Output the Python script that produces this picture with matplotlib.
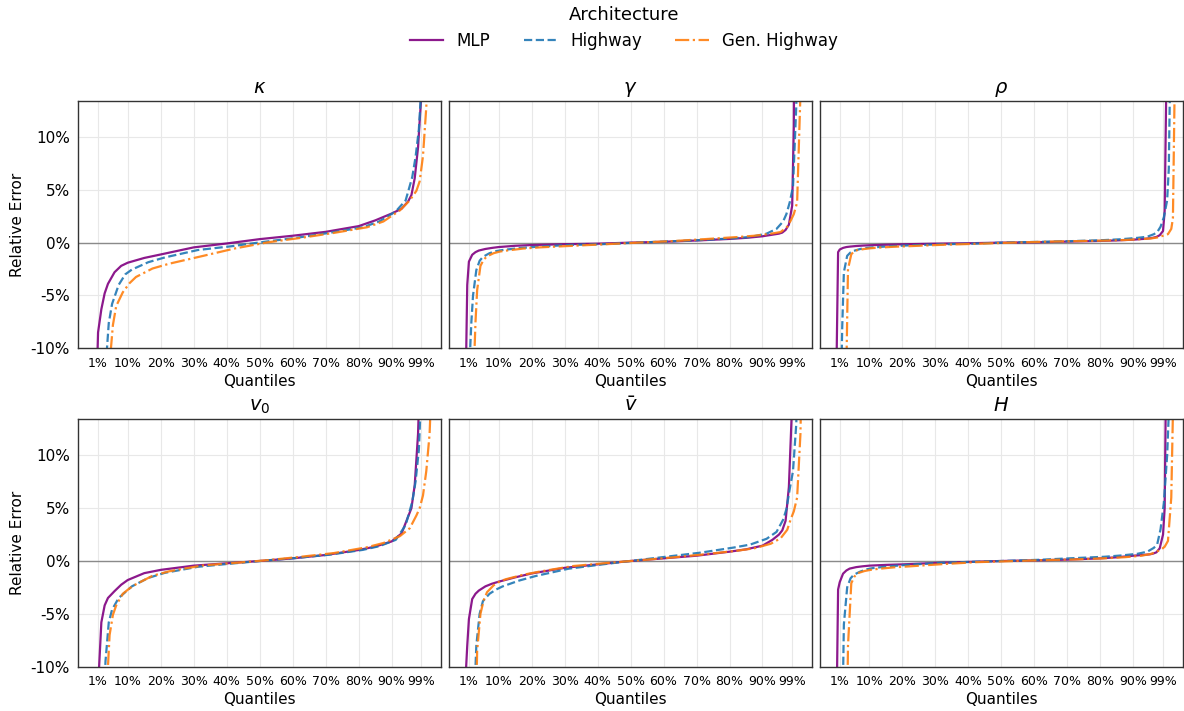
import numpy as np
import matplotlib
matplotlib.use("Agg")
import matplotlib.pyplot as plt
from matplotlib.ticker import FuncFormatter

# quantile grid (in %) shared by every curve
quantiles = [0, 0.5, 1, 2, 3, 4, 6, 8, 10, 15, 20, 30, 40, 50, 60, 70, 80,
             85, 90, 93, 95, 96, 97, 98, 99, 99.5, 100]

# relative error (in %) at each quantile
kappa_mlp = [-30, -14, -8.5, -6.3, -4.8, -3.9, -2.8, -2.2, -1.9, -1.45, -1.12, -0.45, -0.08, 0.33,
             0.65, 1.02, 1.56, 2.1, 2.75, 3.2, 3.9, 4.5, 6.1, 9.0, 14, 25, 50]
kappa_highway = [-35, -25, -19, -12, -7.6, -5.8, -4.0, -3.0, -2.55, -1.85, -1.4, -0.7, -0.35, 0.07,
                 0.46, 0.93, 1.45, 2.0, 2.95, 4.0, 6.2, 8.1, 10.7, 16, 25, 35, 50]
kappa_gen_highway = [-28, -22, -18, -11.5, -7.8, -6.0, -4.7, -3.85, -3.25, -2.45, -2.0, -1.28, -0.55, 0.03,
                     0.45, 0.92, 1.45, 2.0, 3.05, 4.0, 4.9, 5.8, 8.2, 12.8, 20, 30, 50]

gamma_mlp = [-14, -4, -1.8, -1.15, -0.9, -0.75, -0.6, -0.5, -0.42, -0.3, -0.23, -0.15, -0.1, 0,
             0.08, 0.2, 0.35, 0.45, 0.6, 0.75, 0.85, 0.95, 1.2, 1.7, 3.5, 11, 40]
gamma_highway = [-11, -7.5, -5, -2.6, -1.72, -1.35, -1.0, -0.8, -0.7, -0.52, -0.4, -0.22, -0.15, -0.01,
                 0.11, 0.24, 0.41, 0.53, 0.85, 1.3, 2.0, 2.7, 3.8, 5.3, 13, 25, 40]
gamma_gen_highway = [-12, -7.5, -4.5, -2.2, -1.6, -1.3, -1.0, -0.84, -0.75, -0.56, -0.45, -0.3, -0.15, 0.0,
                     0.14, 0.33, 0.53, 0.65, 0.84, 1.0, 1.5, 2.05, 2.7, 3.8, 14, 25, 40]

rho_mlp = [-12, -0.9, -0.65, -0.5, -0.42, -0.38, -0.32, -0.28, -0.25, -0.2, -0.16, -0.1, -0.06, 0,
           0.03, 0.1, 0.16, 0.21, 0.28, 0.35, 0.41, 0.46, 0.54, 0.7, 1.1, 3, 15]
rho_highway = [-16, -8, -2.8, -1.25, -0.93, -0.78, -0.6, -0.5, -0.45, -0.34, -0.27, -0.16, -0.1, 0.01,
               0.07, 0.14, 0.24, 0.32, 0.45, 0.56, 0.8, 1.0, 1.5, 2.4, 4, 7, 18]
rho_gen_highway = [-20, -12, -2.5, -1.1, -0.78, -0.7, -0.6, -0.53, -0.48, -0.39, -0.33, -0.2, -0.11, -0.01,
                   0.08, 0.14, 0.2, 0.25, 0.33, 0.4, 0.5, 0.6, 0.7, 0.8, 1.3, 2.3, 14]

v0_mlp = [-30, -20, -12, -5.8, -4.2, -3.5, -2.85, -2.25, -1.8, -1.15, -0.84, -0.44, -0.22, 0,
          0.25, 0.57, 1.04, 1.36, 1.85, 2.6, 4.2, 5.0, 7.2, 12, 22, 35, 50]
v0_highway = [-35, -25, -18, -9.5, -5.8, -4.6, -3.5, -2.95, -2.4, -1.6, -1.12, -0.55, -0.25, 0.03,
              0.29, 0.6, 1.05, 1.4, 2.0, 3.4, 5.6, 7.5, 10.5, 18, 30, 40, 50]
v0_gen_highway = [-30, -22, -13, -7.0, -5.1, -4.2, -3.1, -2.6, -2.2, -1.4, -0.98, -0.43, -0.18, 0.08,
                  0.4, 0.75, 1.3, 1.7, 2.35, 3.1, 4.3, 5.0, 6.2, 8.5, 12, 16, 30]

vbar_mlp = [-11, -8, -5.5, -3.6, -3.1, -2.8, -2.4, -2.15, -1.96, -1.55, -1.18, -0.65, -0.32, 0,
            0.25, 0.5, 0.88, 1.1, 1.45, 2.0, 2.5, 2.9, 3.8, 7.0, 15, 30, 50]
vbar_highway = [-30, -22, -16, -8, -5, -3.8, -3.1, -2.7, -2.4, -1.85, -1.42, -0.73, -0.33, 0.05,
                0.42, 0.79, 1.27, 1.55, 2.1, 2.75, 3.9, 4.9, 6.8, 8.5, 13, 25, 40]
vbar_gen_highway = [-25, -16, -8.5, -5.0, -3.7, -2.95, -2.3, -1.9, -1.7, -1.3, -1.0, -0.48, -0.2, 0.06,
                    0.33, 0.63, 0.98, 1.2, 1.63, 2.15, 2.95, 3.9, 4.7, 6.0, 12, 20, 40]

h_mlp = [-15, -2.7, -2.0, -1.2, -0.9, -0.72, -0.58, -0.5, -0.44, -0.37, -0.32, -0.19, -0.09, 0,
         0.06, 0.13, 0.25, 0.35, 0.5, 0.57, 0.63, 0.7, 0.82, 1.2, 2.5, 5, 20]
h_highway = [-25, -16, -6, -2.5, -1.65, -1.3, -1.0, -0.78, -0.66, -0.5, -0.37, -0.18, -0.08, 0.01,
             0.11, 0.26, 0.4, 0.52, 0.68, 0.88, 1.25, 1.6, 3.0, 5.5, 10, 14, 30]
h_gen_highway = [-30, -20, -8, -2.1, -1.45, -1.15, -0.95, -0.83, -0.75, -0.6, -0.5, -0.29, -0.11, -0.02,
                 0.08, 0.15, 0.27, 0.36, 0.5, 0.68, 0.95, 1.1, 1.35, 1.9, 6, 14, 30]

titles = [r"$\kappa$", r"$\gamma$", r"$\rho$", r"$v_0$", r"$\bar{v}$", r"$H$"]
architectures = ["MLP", "Highway", "Gen. Highway"]
x_ticks = [1, 10, 20, 30, 40, 50, 60, 70, 80, 90, 99]
y_ticks = [-10, -5, 0, 5, 10]

colors = ["purple", "#1f77b4", "#ff7f0e"]
styles = ["-", "--", "-."]
x_offsets = [0, 1.25, 2.5]  # small dodge so overlapping curves stay visible

panels = [
    [kappa_mlp, kappa_highway, kappa_gen_highway],
    [gamma_mlp, gamma_highway, gamma_gen_highway],
    [rho_mlp, rho_highway, rho_gen_highway],
    [v0_mlp, v0_highway, v0_gen_highway],
    [vbar_mlp, vbar_highway, vbar_gen_highway],
    [h_mlp, h_highway, h_gen_highway],
]

fig, axes = plt.subplots(2, 3, figsize=(11.84, 7.11), dpi=100, sharey=True)
fig.subplots_adjust(left=0.0661, right=0.999, top=0.858, bottom=0.0623,
                    wspace=0.022, hspace=0.287)

q = np.array(quantiles)
for ax, title, series in zip(axes.flat, titles, panels):
    ax.axhline(0, color="gray", lw=1, alpha=0.9, zorder=1)
    for vals, name, c, ls, dx in zip(series, architectures, colors, styles, x_offsets):
        ax.plot(q + dx, vals, color=c, ls=ls, lw=1.6, alpha=0.9, label=name, zorder=2)

    ax.set_title(title, fontsize=14)
    ax.set_xlim(-5, 105)
    ax.set_ylim(-10, 13.4)
    ax.set_xticks(x_ticks)
    ax.set_xticklabels([f"{t}%" for t in x_ticks], fontsize=9)
    ax.set_yticks(y_ticks)
    ax.yaxis.set_major_formatter(FuncFormatter(lambda v, _: f"{v:.0f}%"))
    ax.tick_params(axis="y", labelsize=11)
    ax.tick_params(length=0, pad=6)
    ax.set_xlabel("Quantiles", fontsize=11, labelpad=3)
    ax.grid(True, color="#e8e8e8", lw=0.8, zorder=0)
    ax.set_axisbelow(True)
    for sp in ax.spines.values():
        sp.set_color("#333333")
        sp.set_linewidth(1.0)

for ax in axes[:, 0]:
    ax.set_ylabel("Relative Error", fontsize=11)

handles, labels = axes[0, 0].get_legend_handles_labels()
fig.legend(handles, labels, title="Architecture", loc="upper center",
           bbox_to_anchor=(0.527, 1.013), ncol=3, frameon=False, fontsize=12,
           title_fontsize=13)

fig.savefig("out.png", dpi=100)
